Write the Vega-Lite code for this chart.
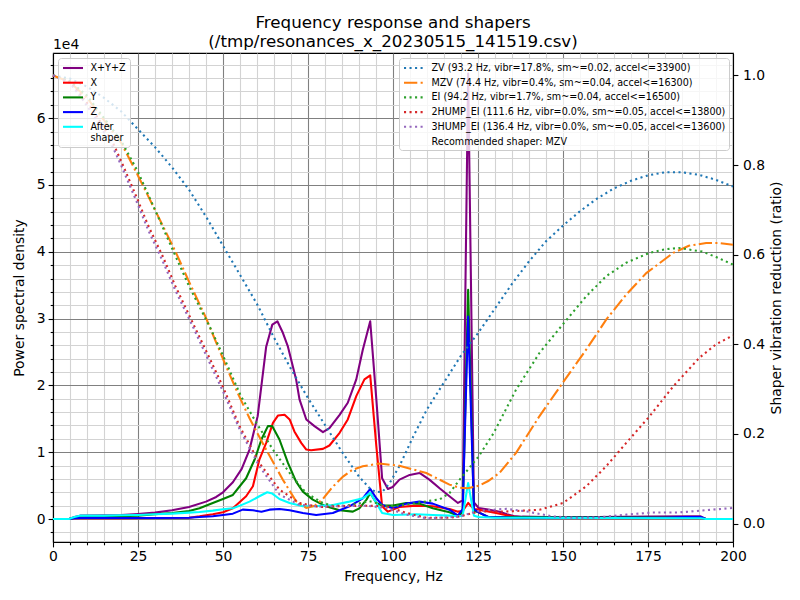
{
  "$schema": "https://vega.github.io/schema/vega-lite/v6.json",
  "width": 680,
  "height": 489,
  "autosize": {"type": "none"},
  "padding": {"left": 53, "top": 53, "right": 67, "bottom": 58},
  "background": "white",
  "config": {
    "font": "DejaVu Sans",
    "view": {"stroke": "black", "strokeWidth": 1.1},
    "axis": {"labelFont": "DejaVu Sans", "titleFont": "DejaVu Sans", "labelColor": "black", "titleColor": "black", "domainColor": "black", "domainWidth": 1.1, "tickColor": "black", "tickWidth": 1.1, "labelFontSize": 13.9, "titleFontSize": 13.9, "titleFontWeight": "normal", "labelOverlap": false, "labelFlush": false, "labelBound": false},
    "legend": {"labelFont": "DejaVu Sans", "labelFontSize": 9.6, "labelColor": "black", "labelLimit": 1000, "fillColor": "rgba(255,255,255,0.8)", "strokeColor": "#cccccc", "cornerRadius": 3, "padding": 3.5, "rowPadding": 2.7, "symbolType": "M-1,0H3", "symbolSize": 100, "symbolStrokeWidth": 2.08, "labelOffset": 16, "title": null}
  },
  "title": {"text": ["Frequency response and shapers", "(/tmp/resonances_x_20230515_141519.csv)"], "fontSize": 16.7, "fontWeight": "normal", "font": "DejaVu Sans", "color": "black", "anchor": "middle", "lineHeight": 19, "offset": -13},
  "datasets": {
    "psd": [
      {"f":0,"s":"X+Y+Z","v":0},{"f":4.7,"s":"X+Y+Z","v":0},{"f":6.3,"s":"X+Y+Z","v":300},{"f":8,"s":"X+Y+Z","v":500},{"f":15,"s":"X+Y+Z","v":550},{"f":20,"s":"X+Y+Z","v":600},{"f":25,"s":"X+Y+Z","v":750},{"f":30,"s":"X+Y+Z","v":950},{"f":35,"s":"X+Y+Z","v":1300},{"f":40,"s":"X+Y+Z","v":1800},{"f":45,"s":"X+Y+Z","v":2600},{"f":48,"s":"X+Y+Z","v":3300},{"f":50,"s":"X+Y+Z","v":4000},{"f":52.9,"s":"X+Y+Z","v":5500},{"f":55.5,"s":"X+Y+Z","v":7500},{"f":57.8,"s":"X+Y+Z","v":10400},{"f":60.2,"s":"X+Y+Z","v":15400},{"f":62.7,"s":"X+Y+Z","v":25800},{"f":64.5,"s":"X+Y+Z","v":29100},{"f":66,"s":"X+Y+Z","v":29600},{"f":67.5,"s":"X+Y+Z","v":28000},{"f":69.1,"s":"X+Y+Z","v":25800},{"f":71.5,"s":"X+Y+Z","v":20900},{"f":72.5,"s":"X+Y+Z","v":17900},{"f":74.5,"s":"X+Y+Z","v":14900},{"f":76.9,"s":"X+Y+Z","v":13900},{"f":79.4,"s":"X+Y+Z","v":13000},{"f":81.3,"s":"X+Y+Z","v":13600},{"f":84.3,"s":"X+Y+Z","v":15600},{"f":86.7,"s":"X+Y+Z","v":17400},{"f":89.2,"s":"X+Y+Z","v":20900},{"f":91.1,"s":"X+Y+Z","v":25300},{"f":93.3,"s":"X+Y+Z","v":29600},{"f":95.1,"s":"X+Y+Z","v":17900},{"f":96.8,"s":"X+Y+Z","v":6100},{"f":98.5,"s":"X+Y+Z","v":4500},{"f":99.9,"s":"X+Y+Z","v":4800},{"f":101.9,"s":"X+Y+Z","v":5900},{"f":104.9,"s":"X+Y+Z","v":6600},{"f":107.8,"s":"X+Y+Z","v":6900},{"f":110.7,"s":"X+Y+Z","v":5900},{"f":113.7,"s":"X+Y+Z","v":4600},{"f":116.6,"s":"X+Y+Z","v":3400},{"f":119.1,"s":"X+Y+Z","v":2400},{"f":120.5,"s":"X+Y+Z","v":2800},{"f":122.1,"s":"X+Y+Z","v":66700},{"f":123.8,"s":"X+Y+Z","v":2500},{"f":125.2,"s":"X+Y+Z","v":1650},{"f":128,"s":"X+Y+Z","v":1400},{"f":131.3,"s":"X+Y+Z","v":1100},{"f":133.5,"s":"X+Y+Z","v":700},{"f":135.5,"s":"X+Y+Z","v":450},{"f":138,"s":"X+Y+Z","v":350},{"f":145,"s":"X+Y+Z","v":300},{"f":160,"s":"X+Y+Z","v":300},{"f":175,"s":"X+Y+Z","v":350},{"f":188,"s":"X+Y+Z","v":400},{"f":190.5,"s":"X+Y+Z","v":400},{"f":192,"s":"X+Y+Z","v":0},{"f":200,"s":"X+Y+Z","v":0},
      {"f":0,"s":"X","v":0},{"f":4.7,"s":"X","v":0},{"f":6.3,"s":"X","v":100},{"f":20,"s":"X","v":100},{"f":30,"s":"X","v":150},{"f":40,"s":"X","v":200},{"f":43.1,"s":"X","v":400},{"f":47,"s":"X","v":700},{"f":50,"s":"X","v":1000},{"f":52.9,"s":"X","v":1600},{"f":56.8,"s":"X","v":3400},{"f":58.8,"s":"X","v":4900},{"f":60.7,"s":"X","v":8900},{"f":62.7,"s":"X","v":11400},{"f":64.7,"s":"X","v":14400},{"f":66.2,"s":"X","v":15500},{"f":68.1,"s":"X","v":15600},{"f":69.6,"s":"X","v":14900},{"f":71,"s":"X","v":13100},{"f":73,"s":"X","v":11400},{"f":74.5,"s":"X","v":10400},{"f":75.9,"s":"X","v":10300},{"f":79.4,"s":"X","v":10500},{"f":81.3,"s":"X","v":11000},{"f":84.3,"s":"X","v":12900},{"f":86.7,"s":"X","v":14900},{"f":89.2,"s":"X","v":18400},{"f":91.6,"s":"X","v":20900},{"f":93.3,"s":"X","v":21500},{"f":95.1,"s":"X","v":10900},{"f":96.8,"s":"X","v":1900},{"f":98.5,"s":"X","v":1100},{"f":101.9,"s":"X","v":1800},{"f":106.8,"s":"X","v":2000},{"f":111.7,"s":"X","v":1900},{"f":116.6,"s":"X","v":1500},{"f":119.1,"s":"X","v":1100},{"f":120.5,"s":"X","v":1200},{"f":122.1,"s":"X","v":2400},{"f":123.8,"s":"X","v":1500},{"f":125.2,"s":"X","v":1400},{"f":130.3,"s":"X","v":900},{"f":134.8,"s":"X","v":400},{"f":138,"s":"X","v":150},{"f":190.5,"s":"X","v":100},{"f":192,"s":"X","v":0},{"f":200,"s":"X","v":0},
      {"f":0,"s":"Y","v":0},{"f":4.7,"s":"Y","v":0},{"f":6.3,"s":"Y","v":200},{"f":10,"s":"Y","v":300},{"f":20,"s":"Y","v":400},{"f":25,"s":"Y","v":500},{"f":30,"s":"Y","v":700},{"f":35,"s":"Y","v":900},{"f":40,"s":"Y","v":1200},{"f":43.1,"s":"Y","v":1600},{"f":47,"s":"Y","v":2400},{"f":50,"s":"Y","v":3000},{"f":52.9,"s":"Y","v":3600},{"f":56.8,"s":"Y","v":6100},{"f":59.3,"s":"Y","v":8900},{"f":61.3,"s":"Y","v":11900},{"f":63.2,"s":"Y","v":13900},{"f":64.5,"s":"Y","v":13900},{"f":66.6,"s":"Y","v":11900},{"f":69.1,"s":"Y","v":8400},{"f":71.5,"s":"Y","v":5600},{"f":73.5,"s":"Y","v":4100},{"f":76.4,"s":"Y","v":2900},{"f":80.3,"s":"Y","v":1900},{"f":84.3,"s":"Y","v":1300},{"f":88.2,"s":"Y","v":1100},{"f":90.1,"s":"Y","v":1600},{"f":92.2,"s":"Y","v":2900},{"f":93.3,"s":"Y","v":3900},{"f":95.1,"s":"Y","v":2400},{"f":96.8,"s":"Y","v":2000},{"f":100,"s":"Y","v":2000},{"f":103.9,"s":"Y","v":2400},{"f":107.8,"s":"Y","v":2300},{"f":111.7,"s":"Y","v":1600},{"f":116.6,"s":"Y","v":1000},{"f":119.1,"s":"Y","v":500},{"f":120.5,"s":"Y","v":1000},{"f":122.1,"s":"Y","v":34300},{"f":123.8,"s":"Y","v":1200},{"f":125.2,"s":"Y","v":1000},{"f":128,"s":"Y","v":300},{"f":190.5,"s":"Y","v":200},{"f":192,"s":"Y","v":0},{"f":200,"s":"Y","v":0},
      {"f":0,"s":"Z","v":0},{"f":4.7,"s":"Z","v":0},{"f":6.3,"s":"Z","v":100},{"f":10,"s":"Z","v":200},{"f":20,"s":"Z","v":150},{"f":30,"s":"Z","v":150},{"f":40,"s":"Z","v":200},{"f":43.1,"s":"Z","v":300},{"f":47,"s":"Z","v":400},{"f":50,"s":"Z","v":600},{"f":52.9,"s":"Z","v":800},{"f":55.8,"s":"Z","v":1400},{"f":58.8,"s":"Z","v":1300},{"f":61.3,"s":"Z","v":1100},{"f":63.7,"s":"Z","v":1400},{"f":66.6,"s":"Z","v":1500},{"f":69.6,"s":"Z","v":1300},{"f":73.5,"s":"Z","v":900},{"f":77.4,"s":"Z","v":600},{"f":82.3,"s":"Z","v":900},{"f":87.2,"s":"Z","v":1900},{"f":91.1,"s":"Z","v":3100},{"f":93.3,"s":"Z","v":4500},{"f":95.1,"s":"Z","v":3100},{"f":96.8,"s":"Z","v":2100},{"f":100,"s":"Z","v":1600},{"f":103.9,"s":"Z","v":2300},{"f":107.8,"s":"Z","v":2600},{"f":111.7,"s":"Z","v":2300},{"f":116.6,"s":"Z","v":1400},{"f":119.1,"s":"Z","v":500},{"f":120.5,"s":"Z","v":1500},{"f":122.1,"s":"Z","v":30300},{"f":123.8,"s":"Z","v":1500},{"f":125.2,"s":"Z","v":1000},{"f":128,"s":"Z","v":300},{"f":135,"s":"Z","v":200},{"f":180,"s":"Z","v":200},{"f":186,"s":"Z","v":300},{"f":190.5,"s":"Z","v":300},{"f":192,"s":"Z","v":0},{"f":200,"s":"Z","v":0},
      {"f":0,"s":"After shaper","v":0},{"f":4.7,"s":"After shaper","v":0},{"f":6.3,"s":"After shaper","v":300},{"f":7.8,"s":"After shaper","v":500},{"f":15,"s":"After shaper","v":500},{"f":20,"s":"After shaper","v":550},{"f":25,"s":"After shaper","v":600},{"f":30,"s":"After shaper","v":700},{"f":35,"s":"After shaper","v":800},{"f":40,"s":"After shaper","v":950},{"f":43.1,"s":"After shaper","v":1050},{"f":47,"s":"After shaper","v":1250},{"f":50,"s":"After shaper","v":1450},{"f":52.9,"s":"After shaper","v":1600},{"f":55,"s":"After shaper","v":2000},{"f":57.8,"s":"After shaper","v":2600},{"f":60.7,"s":"After shaper","v":3400},{"f":63,"s":"After shaper","v":4000},{"f":64.5,"s":"After shaper","v":3800},{"f":66.6,"s":"After shaper","v":3000},{"f":69.6,"s":"After shaper","v":2400},{"f":73.5,"s":"After shaper","v":1900},{"f":76.4,"s":"After shaper","v":1900},{"f":82.3,"s":"After shaper","v":2100},{"f":87.2,"s":"After shaper","v":2600},{"f":91.1,"s":"After shaper","v":3100},{"f":93.3,"s":"After shaper","v":3900},{"f":95.1,"s":"After shaper","v":2400},{"f":96.8,"s":"After shaper","v":900},{"f":100,"s":"After shaper","v":600},{"f":106.8,"s":"After shaper","v":700},{"f":111.7,"s":"After shaper","v":600},{"f":116.6,"s":"After shaper","v":500},{"f":119.1,"s":"After shaper","v":400},{"f":120.5,"s":"After shaper","v":500},{"f":122.1,"s":"After shaper","v":5400},{"f":123.8,"s":"After shaper","v":500},{"f":125.2,"s":"After shaper","v":300},{"f":130,"s":"After shaper","v":200},{"f":190.5,"s":"After shaper","v":100},{"f":192,"s":"After shaper","v":0},{"f":200,"s":"After shaper","v":0}
    ],
    "shp": [
      {"f":0,"s":"ZV","r":1},{"f":5,"s":"ZV","r":0.993},{"f":10,"s":"ZV","r":0.975},{"f":15,"s":"ZV","r":0.95},{"f":20,"s":"ZV","r":0.92},{"f":25,"s":"ZV","r":0.88},{"f":30,"s":"ZV","r":0.84},{"f":35,"s":"ZV","r":0.795},{"f":40,"s":"ZV","r":0.745},{"f":45,"s":"ZV","r":0.685},{"f":50,"s":"ZV","r":0.62},{"f":55,"s":"ZV","r":0.555},{"f":60,"s":"ZV","r":0.49},{"f":65,"s":"ZV","r":0.415},{"f":70,"s":"ZV","r":0.345},{"f":75,"s":"ZV","r":0.28},{"f":80,"s":"ZV","r":0.22},{"f":85,"s":"ZV","r":0.16},{"f":90,"s":"ZV","r":0.105},{"f":93,"s":"ZV","r":0.08},{"f":95,"s":"ZV","r":0.07},{"f":97,"s":"ZV","r":0.072},{"f":99,"s":"ZV","r":0.09},{"f":102,"s":"ZV","r":0.13},{"f":106,"s":"ZV","r":0.195},{"f":110,"s":"ZV","r":0.255},{"f":115,"s":"ZV","r":0.315},{"f":120,"s":"ZV","r":0.375},{"f":125,"s":"ZV","r":0.425},{"f":130,"s":"ZV","r":0.48},{"f":135,"s":"ZV","r":0.535},{"f":140,"s":"ZV","r":0.585},{"f":145,"s":"ZV","r":0.63},{"f":150,"s":"ZV","r":0.665},{"f":155,"s":"ZV","r":0.697},{"f":160,"s":"ZV","r":0.725},{"f":165,"s":"ZV","r":0.748},{"f":170,"s":"ZV","r":0.765},{"f":175,"s":"ZV","r":0.777},{"f":180,"s":"ZV","r":0.784},{"f":185,"s":"ZV","r":0.784},{"f":190,"s":"ZV","r":0.778},{"f":195,"s":"ZV","r":0.767},{"f":200,"s":"ZV","r":0.752},
      {"f":0,"s":"MZV","r":1},{"f":5,"s":"MZV","r":0.985},{"f":10,"s":"MZV","r":0.95},{"f":15,"s":"MZV","r":0.9},{"f":20,"s":"MZV","r":0.85},{"f":24.9,"s":"MZV","r":0.778},{"f":30,"s":"MZV","r":0.7},{"f":36.2,"s":"MZV","r":0.604},{"f":40,"s":"MZV","r":0.54},{"f":45,"s":"MZV","r":0.459},{"f":50.9,"s":"MZV","r":0.351},{"f":54.4,"s":"MZV","r":0.29},{"f":57.8,"s":"MZV","r":0.235},{"f":62.7,"s":"MZV","r":0.165},{"f":67.6,"s":"MZV","r":0.098},{"f":71.5,"s":"MZV","r":0.05},{"f":74.5,"s":"MZV","r":0.035},{"f":77,"s":"MZV","r":0.04},{"f":79.4,"s":"MZV","r":0.055},{"f":82,"s":"MZV","r":0.08},{"f":85.3,"s":"MZV","r":0.105},{"f":88,"s":"MZV","r":0.12},{"f":91.1,"s":"MZV","r":0.128},{"f":96,"s":"MZV","r":0.134},{"f":101.9,"s":"MZV","r":0.129},{"f":109.8,"s":"MZV","r":0.113},{"f":116.6,"s":"MZV","r":0.087},{"f":119.6,"s":"MZV","r":0.08},{"f":122,"s":"MZV","r":0.079},{"f":125.4,"s":"MZV","r":0.085},{"f":128,"s":"MZV","r":0.095},{"f":131.3,"s":"MZV","r":0.113},{"f":136.2,"s":"MZV","r":0.158},{"f":143.1,"s":"MZV","r":0.24},{"f":150,"s":"MZV","r":0.315},{"f":156.8,"s":"MZV","r":0.388},{"f":162.7,"s":"MZV","r":0.455},{"f":168.6,"s":"MZV","r":0.511},{"f":174.5,"s":"MZV","r":0.559},{"f":182.4,"s":"MZV","r":0.604},{"f":187,"s":"MZV","r":0.62},{"f":192.1,"s":"MZV","r":0.626},{"f":196,"s":"MZV","r":0.626},{"f":200,"s":"MZV","r":0.622},
      {"f":0,"s":"EI","r":1},{"f":5,"s":"EI","r":0.987},{"f":10,"s":"EI","r":0.955},{"f":15,"s":"EI","r":0.905},{"f":20,"s":"EI","r":0.855},{"f":25,"s":"EI","r":0.785},{"f":30,"s":"EI","r":0.7},{"f":35.2,"s":"EI","r":0.611},{"f":40,"s":"EI","r":0.53},{"f":46.5,"s":"EI","r":0.433},{"f":50,"s":"EI","r":0.375},{"f":55.3,"s":"EI","r":0.284},{"f":59.8,"s":"EI","r":0.225},{"f":64.7,"s":"EI","r":0.165},{"f":69.6,"s":"EI","r":0.113},{"f":74.5,"s":"EI","r":0.068},{"f":79.4,"s":"EI","r":0.046},{"f":82.3,"s":"EI","r":0.04},{"f":86,"s":"EI","r":0.04},{"f":90,"s":"EI","r":0.045},{"f":93,"s":"EI","r":0.05},{"f":95.5,"s":"EI","r":0.045},{"f":97.9,"s":"EI","r":0.039},{"f":102,"s":"EI","r":0.04},{"f":105.9,"s":"EI","r":0.045},{"f":110,"s":"EI","r":0.05},{"f":113.7,"s":"EI","r":0.054},{"f":116.6,"s":"EI","r":0.068},{"f":119.6,"s":"EI","r":0.098},{"f":125.2,"s":"EI","r":0.15},{"f":129.6,"s":"EI","r":0.202},{"f":136.2,"s":"EI","r":0.299},{"f":143.1,"s":"EI","r":0.381},{"f":150,"s":"EI","r":0.445},{"f":156.8,"s":"EI","r":0.507},{"f":162.7,"s":"EI","r":0.552},{"f":168.6,"s":"EI","r":0.582},{"f":175.4,"s":"EI","r":0.604},{"f":180,"s":"EI","r":0.612},{"f":184.1,"s":"EI","r":0.615},{"f":190.9,"s":"EI","r":0.607},{"f":195,"s":"EI","r":0.595},{"f":200,"s":"EI","r":0.578},
      {"f":0,"s":"2HUMP_EI","r":1},{"f":5,"s":"2HUMP_EI","r":0.985},{"f":8.8,"s":"2HUMP_EI","r":0.95},{"f":12,"s":"2HUMP_EI","r":0.92},{"f":17.6,"s":"2HUMP_EI","r":0.85},{"f":20,"s":"2HUMP_EI","r":0.81},{"f":24.5,"s":"2HUMP_EI","r":0.73},{"f":28,"s":"2HUMP_EI","r":0.665},{"f":32.3,"s":"2HUMP_EI","r":0.596},{"f":36,"s":"2HUMP_EI","r":0.53},{"f":41.1,"s":"2HUMP_EI","r":0.448},{"f":46,"s":"2HUMP_EI","r":0.37},{"f":50,"s":"2HUMP_EI","r":0.305},{"f":54.9,"s":"2HUMP_EI","r":0.217},{"f":60.7,"s":"2HUMP_EI","r":0.135},{"f":66.6,"s":"2HUMP_EI","r":0.076},{"f":72.5,"s":"2HUMP_EI","r":0.046},{"f":78.4,"s":"2HUMP_EI","r":0.037},{"f":84.3,"s":"2HUMP_EI","r":0.039},{"f":92.2,"s":"2HUMP_EI","r":0.04},{"f":97.9,"s":"2HUMP_EI","r":0.039},{"f":103.9,"s":"2HUMP_EI","r":0.024},{"f":109.8,"s":"2HUMP_EI","r":0.013},{"f":116.6,"s":"2HUMP_EI","r":0.013},{"f":119.6,"s":"2HUMP_EI","r":0.016},{"f":125.4,"s":"2HUMP_EI","r":0.027},{"f":133.3,"s":"2HUMP_EI","r":0.027},{"f":143.1,"s":"2HUMP_EI","r":0.031},{"f":150,"s":"2HUMP_EI","r":0.046},{"f":156.8,"s":"2HUMP_EI","r":0.083},{"f":162.7,"s":"2HUMP_EI","r":0.128},{"f":168.6,"s":"2HUMP_EI","r":0.18},{"f":175.4,"s":"2HUMP_EI","r":0.239},{"f":182.4,"s":"2HUMP_EI","r":0.306},{"f":190.1,"s":"2HUMP_EI","r":0.37},{"f":195,"s":"2HUMP_EI","r":0.4},{"f":200,"s":"2HUMP_EI","r":0.42},
      {"f":0,"s":"3HUMP_EI","r":1},{"f":5,"s":"3HUMP_EI","r":0.983},{"f":8.8,"s":"3HUMP_EI","r":0.945},{"f":12,"s":"3HUMP_EI","r":0.91},{"f":17.6,"s":"3HUMP_EI","r":0.84},{"f":20,"s":"3HUMP_EI","r":0.8},{"f":24.5,"s":"3HUMP_EI","r":0.72},{"f":28,"s":"3HUMP_EI","r":0.655},{"f":32.3,"s":"3HUMP_EI","r":0.585},{"f":36,"s":"3HUMP_EI","r":0.52},{"f":41.1,"s":"3HUMP_EI","r":0.44},{"f":46,"s":"3HUMP_EI","r":0.36},{"f":50,"s":"3HUMP_EI","r":0.295},{"f":54.9,"s":"3HUMP_EI","r":0.21},{"f":60.7,"s":"3HUMP_EI","r":0.128},{"f":66.6,"s":"3HUMP_EI","r":0.065},{"f":72.5,"s":"3HUMP_EI","r":0.042},{"f":78.4,"s":"3HUMP_EI","r":0.038},{"f":84.3,"s":"3HUMP_EI","r":0.039},{"f":92.2,"s":"3HUMP_EI","r":0.04},{"f":97.9,"s":"3HUMP_EI","r":0.035},{"f":103.9,"s":"3HUMP_EI","r":0.02},{"f":109.8,"s":"3HUMP_EI","r":0.012},{"f":116.6,"s":"3HUMP_EI","r":0.014},{"f":119.6,"s":"3HUMP_EI","r":0.016},{"f":125.4,"s":"3HUMP_EI","r":0.029},{"f":133.3,"s":"3HUMP_EI","r":0.033},{"f":139.4,"s":"3HUMP_EI","r":0.027},{"f":147,"s":"3HUMP_EI","r":0.016},{"f":153.5,"s":"3HUMP_EI","r":0.013},{"f":160.4,"s":"3HUMP_EI","r":0.014},{"f":168.6,"s":"3HUMP_EI","r":0.02},{"f":176.4,"s":"3HUMP_EI","r":0.025},{"f":184.1,"s":"3HUMP_EI","r":0.025},{"f":192.1,"s":"3HUMP_EI","r":0.03},{"f":200,"s":"3HUMP_EI","r":0.035}
    ]
  },
  "layer": [
    {
      "layer": [
        {
          "data": {"name": "psd"},
          "mark": {"type": "line", "strokeWidth": 2.08, "strokeJoin": "round"},
          "encoding": {
            "x": {"field": "f", "type": "quantitative", "title": "Frequency, Hz",
              "scale": {"domain": [0, 200], "nice": false, "zero": false},
              "axis": {"values": [0,5,10,15,20,25,30,35,40,45,50,55,60,65,70,75,80,85,90,95,100,105,110,115,120,125,130,135,140,145,150,155,160,165,170,175,180,185,190,195,200], "tickCount": 1000, "format": "d", "labelExpr": "datum.value % 25 == 0 ? datum.label : ''", "grid": true, "gridWidth": 1.1, "gridColor": {"condition": {"test": "datum.value % 25 == 0", "value": "#808080"}, "value": "#d3d3d3"}, "tickSize": {"condition": {"test": "datum.value % 25 == 0", "value": 4.9}, "value": 2.8}, "labelPadding": 3, "titlePadding": 6}},
            "y": {"field": "v", "type": "quantitative", "title": "Power spectral density",
              "scale": {"domain": [-3443, 69760], "nice": false, "zero": false},
              "axis": {"values": [-2000,0,2000,4000,6000,8000,10000,12000,14000,16000,18000,20000,22000,24000,26000,28000,30000,32000,34000,36000,38000,40000,42000,44000,46000,48000,50000,52000,54000,56000,58000,60000,62000,64000,66000,68000], "tickCount": 1000, "labelExpr": "datum.value % 10000 == 0 ? format(datum.value / 10000, 'd') : ''", "grid": true, "gridWidth": 1.1, "gridColor": {"condition": {"test": "datum.value % 10000 == 0", "value": "#808080"}, "value": "#d3d3d3"}, "tickSize": {"condition": {"test": "datum.value % 10000 == 0", "value": 4.9}, "value": 2.8}, "labelPadding": 3, "titlePadding": 10}},
            "color": {"field": "s", "type": "nominal",
              "scale": {"domain": ["X+Y+Z", "X", "Y", "Z", "After shaper"], "range": ["#800080", "#ff0000", "#008000", "#0000ff", "#00ffff"]},
              "legend": {"orient": "top-left", "offset": 5, "labelExpr": "datum.label == 'After shaper' ? ['After', 'shaper'] : datum.label"}}
          }
        },
        {
          "data": {"values": [{"t": "1e4"}]},
          "mark": {"type": "text", "align": "left", "baseline": "alphabetic", "dy": -4, "fontSize": 13.9, "font": "DejaVu Sans", "color": "black"},
          "encoding": {
            "x": {"datum": 0, "type": "quantitative", "title": "Frequency, Hz"},
            "y": {"datum": 69760, "type": "quantitative", "title": "Power spectral density"},
            "text": {"field": "t", "type": "nominal"}
          }
        }
      ]
    },
    {
      "data": {"name": "shp"},
      "mark": {"type": "line", "strokeWidth": 2.08, "strokeCap": "butt"},
      "encoding": {
        "x": {"field": "f", "type": "quantitative", "title": "Frequency, Hz"},
        "y": {"field": "r", "type": "quantitative", "title": "Shaper vibration reduction (ratio)",
          "scale": {"domain": [-0.041, 1.05], "nice": false, "zero": false},
          "axis": {"orient": "right", "values": [0, 0.2, 0.4, 0.6, 0.8, 1.0], "tickCount": 1000, "format": ".1f", "grid": false, "tickSize": 4.9, "labelPadding": 4.5, "titleAngle": 270, "titlePadding": 19}},
        "color": {"field": "s", "type": "nominal",
          "scale": {"domain": ["ZV", "MZV", "EI", "2HUMP_EI", "3HUMP_EI", "Recommended"], "range": ["#1f77b4", "#ff7f0e", "#2ca02c", "#d62728", "#9467bd", "rgba(0,0,0,0)"]},
          "legend": {"orient": "top-right", "offset": 4.5, "labelExpr": "datum.label == 'ZV' ? 'ZV (93.2 Hz, vibr=17.8%, sm~=0.02, accel<=33900)' : datum.label == 'MZV' ? 'MZV (74.4 Hz, vibr=0.4%, sm~=0.04, accel<=16300)' : datum.label == 'EI' ? 'EI (94.2 Hz, vibr=1.7%, sm~=0.04, accel<=16500)' : datum.label == '2HUMP_EI' ? '2HUMP_EI (111.6 Hz, vibr=0.0%, sm~=0.05, accel<=13800)' : datum.label == '3HUMP_EI' ? '3HUMP_EI (136.4 Hz, vibr=0.0%, sm~=0.05, accel<=13600)' : 'Recommended shaper: MZV'"}},
        "strokeDash": {"field": "s", "type": "nominal",
          "scale": {"domain": ["ZV", "MZV", "EI", "2HUMP_EI", "3HUMP_EI", "Recommended"], "range": [[2.08, 3.44], [13.3, 3.33, 2.08, 3.33], [2.08, 3.44], [2.08, 3.44], [2.08, 3.44], [1, 0]]},
          "legend": {"orient": "top-right", "offset": 4.5, "labelExpr": "datum.label == 'ZV' ? 'ZV (93.2 Hz, vibr=17.8%, sm~=0.02, accel<=33900)' : datum.label == 'MZV' ? 'MZV (74.4 Hz, vibr=0.4%, sm~=0.04, accel<=16300)' : datum.label == 'EI' ? 'EI (94.2 Hz, vibr=1.7%, sm~=0.04, accel<=16500)' : datum.label == '2HUMP_EI' ? '2HUMP_EI (111.6 Hz, vibr=0.0%, sm~=0.05, accel<=13800)' : datum.label == '3HUMP_EI' ? '3HUMP_EI (136.4 Hz, vibr=0.0%, sm~=0.05, accel<=13600)' : 'Recommended shaper: MZV'"}}
      }
    }
  ],
  "resolve": {"scale": {"y": "independent", "color": "independent", "strokeDash": "independent"}}
}
